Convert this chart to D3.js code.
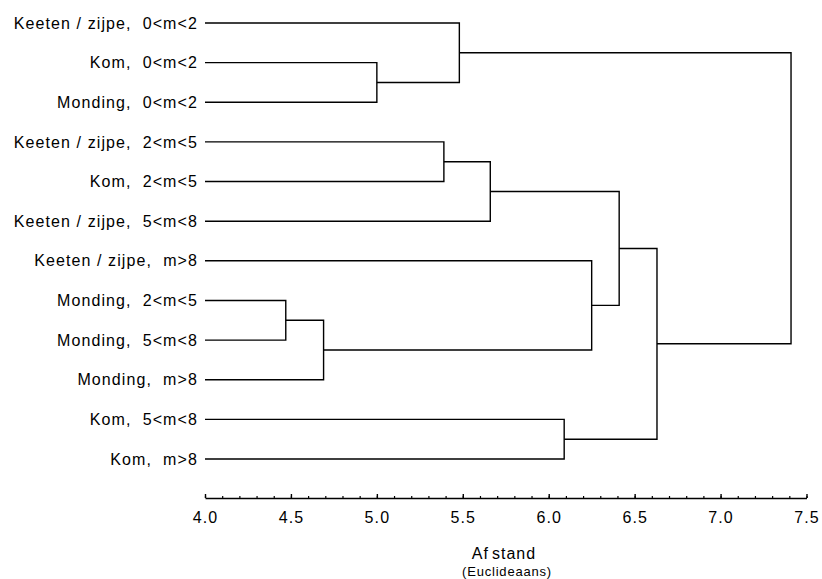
<!DOCTYPE html>
<html>
<head>
<meta charset="utf-8">
<script src="https://cdn.jsdelivr.net/npm/d3@7"></script>
<style>
    body { margin: 0; background: #fff; }
    svg { display: block; font-family: "Liberation Sans", Arial, sans-serif; }
    .leaf-label { white-space: pre; }
</style>
</head>
<body>
<svg width="822" height="579"></svg>
<script>
// leaf labels, top to bottom
const groups = ["Keeten / zijpe", "Kom", "Monding", "Keeten / zijpe", "Kom", "Keeten / zijpe",
                "Keeten / zijpe", "Monding", "Monding", "Monding", "Kom", "Kom"];
const ranges = ["0<m<2", "0<m<2", "0<m<2", "2<m<5", "2<m<5", "5<m<8",
                "m>8", "2<m<5", "5<m<8", "m>8", "5<m<8", "m>8"];

// merges: [child a, child b, distance]; leaves are 0..11, merge k gets id 12 + k
const mergeA = [1, 0, 3, 14, 7, 16, 6, 15, 10, 19, 13];
const mergeB = [2, 12, 4, 5, 8, 9, 17, 18, 11, 20, 21];
const mergeDist = [5.00, 5.48, 5.39, 5.66, 4.47, 4.69, 6.25, 6.41, 6.09, 6.63, 7.41];

const majorTicks = [4.0, 4.5, 5.0, 5.5, 6.0, 6.5, 7.0, 7.5];
const minorTicks = d3.range(40, 76).map(d => d / 10);

const svg = d3.select("svg");

let x = d3.scaleLinear().domain([4.0, 7.5]).range([205, 806.5]);
let y = d3.scalePoint().domain(d3.range(groups.length)).range([23, 459]);

// node positions: leaves first, then merges in order
let nodes = groups.map((g, i) => ({ x: x(4.0), y: y(i) }));
mergeDist.forEach((h, k) => {
    let a = nodes[mergeA[k]], b = nodes[mergeB[k]];
    nodes.push({ x: x(h), y: (a.y + b.y) / 2, a: a, b: b });
});

// branch paths
let merges = nodes.slice(groups.length);
svg.selectAll(".branch")
    .data(merges)
    .enter()
    .append("path")
    .attr("class", "branch")
    .attr("d", d => `M ${d.a.x},${d.a.y}H ${d.x}V ${d.b.y}H ${d.b.x}`)
    .attr("fill", "none")
    .attr("stroke", "#000")
    .attr("stroke-width", 1.4);

// leaf labels
svg.selectAll(".leaf-label")
    .data(groups)
    .enter()
    .append("text")
    .attr("class", "leaf-label")
    .attr("x", 198)
    .attr("y", (d, i) => y(i))
    .attr("dy", "0.35em")
    .attr("text-anchor", "end")
    .attr("font-size", 16)
    .attr("letter-spacing", 1.1)
    .attr("fill", "#000")
    .text((d, i) => `${d},  ${ranges[i]}`);

// axis, ticks point up
let axisY = 498;
svg.append("g")
    .attr("transform", `translate(0,${axisY})`)
    .call(d3.axisBottom(x).tickValues(minorTicks).tickSize(-2).tickSizeOuter(0).tickFormat(""))
    .call(g => g.select(".domain").remove())
    .selectAll("line").attr("stroke", "#000").attr("stroke-width", 1.2);

let ax = svg.append("g")
    .attr("transform", `translate(0,${axisY})`)
    .call(d3.axisBottom(x).tickValues(majorTicks).tickSize(-4).tickSizeOuter(0)
        .tickPadding(13.5).tickFormat(d3.format(".1f")));
ax.select(".domain").attr("stroke", "#000").attr("stroke-width", 1.4);
ax.selectAll("line").attr("stroke", "#000").attr("stroke-width", 1.4);
ax.selectAll("text")
    .attr("font-family", "Liberation Sans, Arial, sans-serif")
    .attr("font-size", 16)
    .attr("letter-spacing", 1.1)
    .attr("fill", "#000");

// axis title
let title = svg.append("text")
    .attr("x", 504)
    .attr("y", 559)
    .attr("text-anchor", "middle")
    .attr("font-size", 16)
    .attr("letter-spacing", 1)
    .attr("fill", "#000");
title.append("tspan").text("Af");
title.append("tspan").attr("dx", 3).text("stand");

svg.append("text")
    .attr("x", 507)
    .attr("y", 576)
    .attr("text-anchor", "middle")
    .attr("font-size", 13)
    .attr("letter-spacing", 0.8)
    .attr("fill", "#000")
    .text("(Euclideaans)");
</script>
</body>
</html>
